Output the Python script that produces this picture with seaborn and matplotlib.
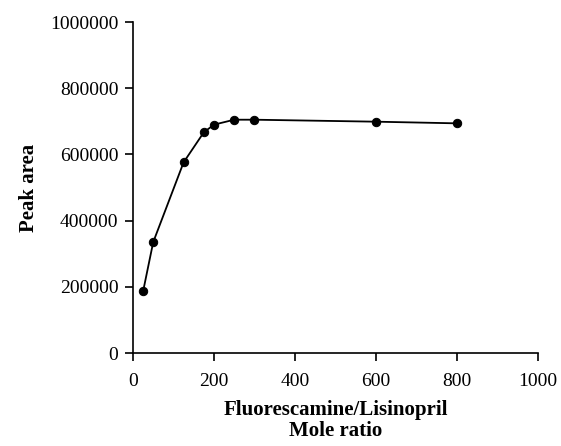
import matplotlib
matplotlib.use("Agg")
import matplotlib.pyplot as plt
import pandas as pd
import seaborn as sns

# Mole ratio vs peak area
mole_ratio = [25, 50, 125, 175, 200, 250, 300, 600, 800]
peak_area = [186000, 335000, 576000, 667000, 690000, 705000, 705000, 699000, 694000]

x_ticks = [0, 200, 400, 600, 800, 1000]
y_ticks = [0, 200000, 400000, 600000, 800000, 1000000]

df = pd.DataFrame({"mole_ratio": mole_ratio, "peak_area": peak_area})

sns.set_style("ticks", {"axes.edgecolor": "black", "text.color": "black",
                        "xtick.color": "black", "ytick.color": "black",
                        "axes.labelcolor": "black"})
plt.rcParams["font.family"] = ["Liberation Serif", "DejaVu Serif"]

fig = plt.figure(figsize=(5.61, 4.46), dpi=100)
ax = fig.add_axes([0.237, 0.2085, 0.722, 0.742])

sns.lineplot(data=df, x="mole_ratio", y="peak_area", ax=ax, color="black",
             linewidth=1.3, marker="o", markersize=6, markeredgecolor="black",
             markerfacecolor="black")

ax.set_xlim(0, 1000)
ax.set_ylim(0, 1000000)
ax.set_xticks(x_ticks)
ax.set_yticks(y_ticks)
ax.set_xticklabels([str(v) for v in x_ticks], fontsize=14)
ax.set_yticklabels([str(v) for v in y_ticks], fontsize=14)
ax.tick_params(direction="out", length=5.5, width=1.2, color="black", pad=5)
ax.tick_params(axis="x", pad=9)
ax.spines["left"].set_linewidth(1.2)
ax.spines["bottom"].set_linewidth(1.2)
sns.despine(ax=ax)

ax.set_xlabel("Fluorescamine/Lisinopril\nMole ratio", fontsize=15, fontweight="bold",
              linespacing=1.05, labelpad=7)
ax.set_ylabel("Peak area", fontsize=15, fontweight="bold", labelpad=8)

fig.savefig("out.png", dpi=100)
